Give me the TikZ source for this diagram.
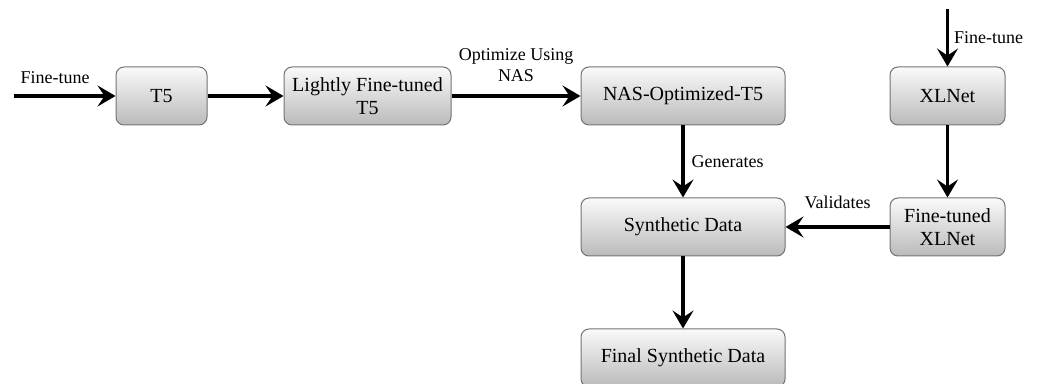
\documentclass[tikz,border=0pt]{standalone}
\usepackage{fontspec}
\setmainfont{Liberation Serif}
\usepackage{tikz}
\usetikzlibrary{positioning,arrows.meta}

\begin{document}
\begin{tikzpicture}[
  font=\fontsize{10}{11.5}\selectfont,
  box/.style={draw=black!55, line width=0.5pt, rounded corners=4pt, align=center,
    top color=black!2, bottom color=black!27, text=black,
    minimum height=29pt, inner sep=2pt},
  lbl/.style={font=\fontsize{9}{10.5}\selectfont, text=black, align=center, inner sep=1.5pt},
  flow/.style={->, line width=1.7pt},
  >={Stealth[length=9pt,width=10.5pt,inset=3.5pt]}
]
\useasboundingbox (0,0) rectangle (519pt,-192pt);

\node[box, minimum width=45.5pt] (t5) at (80.75pt,-48pt) {T5};
\node[box, minimum width=83.5pt, right=38pt of t5] (light) {Lightly Fine-tuned\\T5};
\node[box, minimum width=102pt, right=64.5pt of light] (nas) {NAS-Optimized-T5};
\node[box, minimum width=102pt, below=36pt of nas] (synth) {Synthetic Data};
\node[box, minimum width=102pt, below=36pt of synth] (final) {Final Synthetic Data};
\node[box, minimum width=57.5pt, right=52pt of nas] (xlnet) {XLNet};
\node[box, minimum width=57.5pt, below=36pt of xlnet] (ftxl) {Fine-tuned\\XLNet};

\coordinate (in5) at (7pt,-48pt);
\coordinate[above=28.5pt of xlnet] (inxl);

\draw[flow] (in5) -- (t5) node[lbl, at start, anchor=south west, xshift=1pt, yshift=4pt] {Fine-tune};
\draw[flow] (t5) -- (light);
\draw[flow] (light) -- (nas) node[lbl, midway, above=5pt] {Optimize Using\\NAS};
\draw[flow] (nas) -- (synth) node[lbl, midway, right=2pt] {Generates};
\draw[flow] (synth) -- (final);
\draw[flow] (inxl) -- (xlnet) node[lbl, midway, right=1pt] {Fine-tune};
\draw[flow] (xlnet) -- (ftxl);
\draw[flow] (ftxl) -- (synth) node[lbl, midway, above=7pt] {Validates};
\end{tikzpicture}
\end{document}
